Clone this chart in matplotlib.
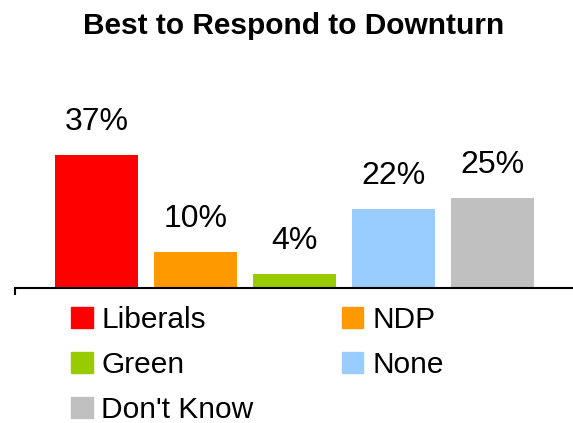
import matplotlib.pyplot as plt
from matplotlib.patches import Patch

plt.rcParams['font.family'] = ['Liberation Sans', 'DejaVu Sans']

# data
categories = ['Liberals', 'NDP', 'Green', 'None', "Don't Know"]
values = [37, 10, 4, 22, 25]
colors = ['#FF0000', '#FF9900', '#99CC00', '#99CCFF', '#C0C0C0']

fig = plt.figure(figsize=(5.73, 4.23), dpi=100)
ax = fig.add_axes([15 / 573, 135 / 423, 558 / 573, 144 / 423])

x = list(range(len(categories)))
bars = ax.bar(x, values, width=0.84, color=colors)

for xi, v in zip(x, values):
    ax.annotate(f'{v}%', (xi, v), xytext=(0, 13), textcoords='offset points',
                ha='center', va='bottom', fontsize=23)

ax.set_xlim(-0.823, 4.81)
ax.set_ylim(0, 40)
for s in ['top', 'right', 'left']:
    ax.spines[s].set_visible(False)
ax.spines['bottom'].set_linewidth(1.5)
ax.set_yticks([])
ax.set_xticks([-0.823])
ax.set_xticklabels([''])
ax.tick_params(axis='x', length=5, width=1.5, direction='out')

fig.text(0.513, 1 - 26 / 423, 'Best to Respond to Downturn', ha='center', va='center',
         fontsize=21.5, fontweight='bold')

# legend, row-major order in 2 columns
handles = [Patch(color=c, label=l) for c, l in zip(colors, categories)]
order = [0, 2, 4, 1, 3]
fig.legend([handles[i] for i in order], [categories[i] for i in order],
           ncol=2, loc='upper left', bbox_to_anchor=(71 / 573, 1 - 306 / 423),
           frameon=False, fontsize=21.5, borderpad=0, borderaxespad=0,
           handlelength=0.72, handleheight=0.72, handletextpad=0.3,
           columnspacing=2.95, labelspacing=0.57)

fig.savefig('out.png', dpi=100)
